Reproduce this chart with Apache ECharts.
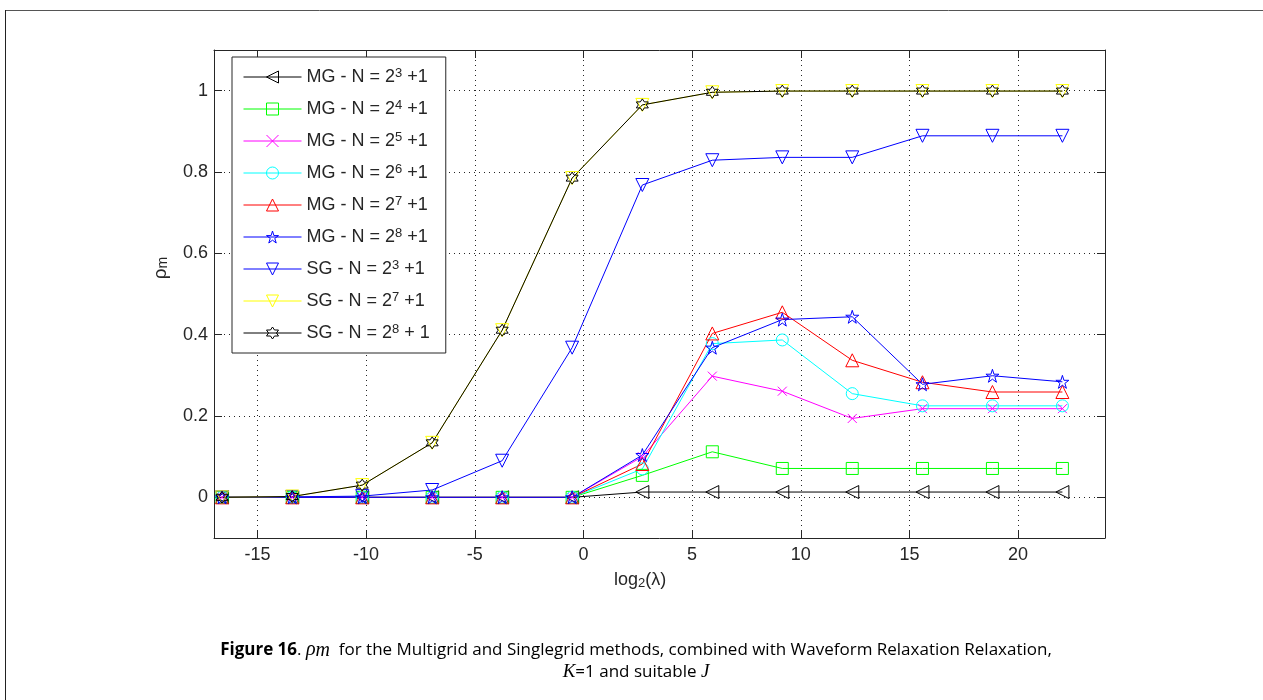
<!DOCTYPE html>
<html><head><meta charset="utf-8">
<script src="https://cdn.jsdelivr.net/npm/echarts@6/dist/echarts.min.js"></script>
<style>html,body{margin:0;padding:0;background:#fff}#c{width:1263px;height:700px}</style>
</head><body><div id="c"></div>
<script>
// ---- data ----
const xValues = [-16.63, -13.4, -10.18, -6.96, -3.74, -0.52, 2.71, 5.93, 9.15, 12.37, 15.6, 18.82, 22.04];
const mgN3  = [0, 0, 0, 0, 0, 0, 0.013, 0.013, 0.013, 0.013, 0.013, 0.013, 0.013];
const mgN4  = [0, 0, 0, 0, 0, 0, 0.054, 0.112, 0.071, 0.071, 0.071, 0.071, 0.071];
const mgN5  = [0, 0, 0, 0, 0, 0, 0.1, 0.298, 0.261, 0.194, 0.218, 0.218, 0.218];
const mgN6  = [0, 0, 0, 0, 0, 0, 0.07, 0.378, 0.387, 0.255, 0.225, 0.225, 0.225];
const mgN7  = [0, 0, 0, 0, 0, 0, 0.082, 0.403, 0.455, 0.337, 0.283, 0.259, 0.259];
const mgN8  = [0, 0, 0, 0, 0, 0, 0.104, 0.368, 0.437, 0.444, 0.278, 0.299, 0.284];
const sgN3  = [0, 0.001, 0.003, 0.018, 0.09, 0.368, 0.768, 0.829, 0.836, 0.836, 0.889, 0.889, 0.889];
const sgN7  = [0, 0.002, 0.03, 0.134, 0.411, 0.785, 0.965, 0.996, 0.999, 0.999, 0.999, 0.999, 0.999];
const sgN8  = [0, 0.002, 0.03, 0.134, 0.411, 0.785, 0.965, 0.996, 0.999, 0.999, 0.999, 0.999, 0.999];
const seriesNames = ['MG3', 'MG4', 'MG5', 'MG6', 'MG7', 'MG8', 'SG3', 'SG7', 'SG8'];
const legendLabels = [
  'MG - N = 2{sup|3} +1', 'MG - N = 2{sup|4} +1', 'MG - N = 2{sup|5} +1',
  'MG - N = 2{sup|6} +1', 'MG - N = 2{sup|7} +1', 'MG - N = 2{sup|8} +1',
  'SG - N = 2{sup|3} +1', 'SG - N = 2{sup|7} +1', 'SG - N = 2{sup|8} + 1'
];
const xTicks = [-15, -10, -5, 0, 5, 10, 15, 20];
const yTicks = [0, 0.2, 0.4, 0.6, 0.8, 1];

// ---- styles ----
const seriesValues = [mgN3, mgN4, mgN5, mgN6, mgN7, mgN8, sgN3, sgN7, sgN8];
const colors = ['#000000', '#00ff00', '#ff00ff', '#00ffff', '#ff0000', '#0000ff', '#0000ff', '#ffff00', '#000000'];
const SYM = {
  triLeft: 'path://M0,5L10,0L10,10Z',
  triUp: 'path://M5,0L10,10L0,10Z',
  triDown: 'path://M0,0L10,0L5,10Z',
  cross: 'path://M0,0L10,10M10,0L0,10',
  pent: 'path://M10,0L12.25,6.91L19.51,6.91L13.63,11.18L15.88,18.09L10,13.82L4.12,18.09L6.37,11.18L0.49,6.91L7.75,6.91Z',
  hexa: 'path://M10,0L12.89,5L18.66,5L15.77,10L18.66,15L12.89,15L10,20L7.11,15L1.34,15L4.23,10L1.34,5L7.11,5Z'
};
const symbols = [SYM.triLeft, 'rect', SYM.cross, 'circle', SYM.triUp, SYM.pent, SYM.triDown, SYM.triDown, SYM.hexa];
const symbolSizes = [13, 12, 9, 12, 13, 13, 13, 13, 12];

const AX = '#262626';
const FONT = 'Liberation Sans';

const series = seriesNames.map((name, i) => ({
  name: name,
  type: 'line',
  data: xValues.map((x, j) => [x, seriesValues[i][j]]),
  symbol: symbols[i],
  symbolSize: symbolSizes[i],
  showSymbol: true,
  showAllSymbol: true,
  lineStyle: { color: colors[i], width: 1 },
  itemStyle: { color: 'rgba(0,0,0,0)', borderColor: colors[i], borderWidth: 1 },
  emphasis: { disabled: true },
  animation: false,
  z: 3
}));

const chart = echarts.init(document.getElementById('c'), null, { renderer: 'canvas' });
const gridBox = { left: 214, top: 50, width: 891, height: 488 };
const tickCommon = { show: true, inside: true, length: 8, lineStyle: { color: AX, width: 1 } };

chart.setOption({
  animation: false,
  backgroundColor: '#ffffff',
  grid: Object.assign({ containLabel: false, show: false }, gridBox),
  xAxis: [{
    type: 'value', min: -17, max: 24, position: 'bottom',
    axisLine: { show: true, onZero: false, lineStyle: { color: AX, width: 1 } },
    axisTick: Object.assign({ customValues: xTicks }, tickCommon),
    axisLabel: { customValues: xTicks, color: AX, fontFamily: FONT, fontSize: 18, margin: 8 },
    splitLine: { show: true, lineStyle: { color: AX, width: 1, type: [1, 4] } }
  }, {
    type: 'value', min: -17, max: 24, position: 'top',
    axisLine: { show: true, onZero: false, lineStyle: { color: AX, width: 1 } },
    axisTick: Object.assign({ customValues: xTicks }, tickCommon),
    axisLabel: { show: false },
    splitLine: { show: false }
  }],
  yAxis: [{
    type: 'value', min: -0.1, max: 1.1, position: 'left',
    axisLine: { show: true, onZero: false, lineStyle: { color: AX, width: 1 } },
    axisTick: Object.assign({ customValues: yTicks }, tickCommon),
    axisLabel: { customValues: yTicks, color: AX, fontFamily: FONT, fontSize: 18, margin: 6 },
    splitLine: { show: true, lineStyle: { color: AX, width: 1, type: [1, 4] } }
  }, {
    type: 'value', min: -0.1, max: 1.1, position: 'right',
    axisLine: { show: true, onZero: false, lineStyle: { color: AX, width: 1 } },
    axisTick: Object.assign({ customValues: yTicks }, tickCommon),
    axisLabel: { show: false },
    splitLine: { show: false }
  }],
  legend: {
    show: true,
    orient: 'vertical',
    left: 232, top: 57,
    selectedMode: false,
    backgroundColor: '#ffffff',
    borderColor: AX, borderWidth: 1, borderRadius: 0,
    padding: [10, 16, 10, 11],
    itemWidth: 58, itemHeight: 15, itemGap: 12,
    z: 10,
    data: seriesNames.map((n, i) => ({
      name: n,
      itemStyle: { color: 'rgba(0,0,0,0)', borderColor: colors[i], borderWidth: 1 },
      lineStyle: { color: colors[i], width: 1, type: 'solid' }
    })),
    formatter: (name) => legendLabels[seriesNames.indexOf(name)],
    textStyle: {
      color: AX, fontFamily: FONT, fontSize: 18, lineHeight: 20, padding: [0, 0, 0, 0],
      rich: { sup: { color: AX, fontFamily: FONT, fontSize: 13, lineHeight: 8, verticalAlign: 'top' } }
    }
  },
  tooltip: { show: false },
  series: series,
  graphic: [
    { type: 'line', shape: { x1: 5, y1: 10.5, x2: 1263, y2: 10.5 }, style: { stroke: '#555', lineWidth: 1 }, silent: true },
    { type: 'line', shape: { x1: 5.5, y1: 10, x2: 5.5, y2: 700 }, style: { stroke: '#222', lineWidth: 1 }, silent: true },
    { type: 'text', x: 161, y: 268, rotation: Math.PI / 2, silent: true,
      style: { text: 'ρ{sub|m}', fill: AX, font: '19px "Liberation Sans"', align: 'center', verticalAlign: 'middle',
        rich: { sub: { fontSize: 14, fontFamily: FONT, fill: AX, verticalAlign: 'bottom', lineHeight: 14, padding: [8, 0, 0, 0] } } } },
    { type: 'text', x: 640, y: 580, silent: true,
      style: { text: 'log{sub|2}(λ)', fill: AX, font: '18px "Liberation Sans"', align: 'center', verticalAlign: 'middle', lineHeight: 20,
        rich: { sub: { fontSize: 13, fontFamily: FONT, fill: AX, verticalAlign: 'bottom', lineHeight: 13, padding: [6, 0, 0, 0] } } } },
    { type: 'text', x: 636, y: 650, silent: true,
      style: { text: '{b|Figure 16}. {mi|ρ}{ms|m}  for the Multigrid and Singlegrid methods, combined with Waveform Relaxation Relaxation,',
        fill: '#000', font: '17px "Open Sans"', align: 'center', verticalAlign: 'middle', lineHeight: 22,
        rich: {
          b: { fontWeight: 'bold', fontFamily: 'Open Sans', fontSize: 17, fill: '#000' },
          mi: { fontStyle: 'italic', fontFamily: 'Liberation Serif', fontSize: 20, fill: '#000' },
          ms: { fontStyle: 'italic', fontFamily: 'Liberation Serif', fontSize: 20, fill: '#000', verticalAlign: 'bottom', lineHeight: 18, padding: [4, 0, 0, 0] }
        } } },
    { type: 'text', x: 636, y: 672, silent: true,
      style: { text: '{mi|K}=1 and suitable {mi|J}', fill: '#000', font: '17px "Open Sans"', align: 'center', verticalAlign: 'middle', lineHeight: 22,
        rich: { mi: { fontStyle: 'italic', fontFamily: 'Liberation Serif', fontSize: 19, fill: '#000' } } } }
  ]
});
</script>
</body></html>
